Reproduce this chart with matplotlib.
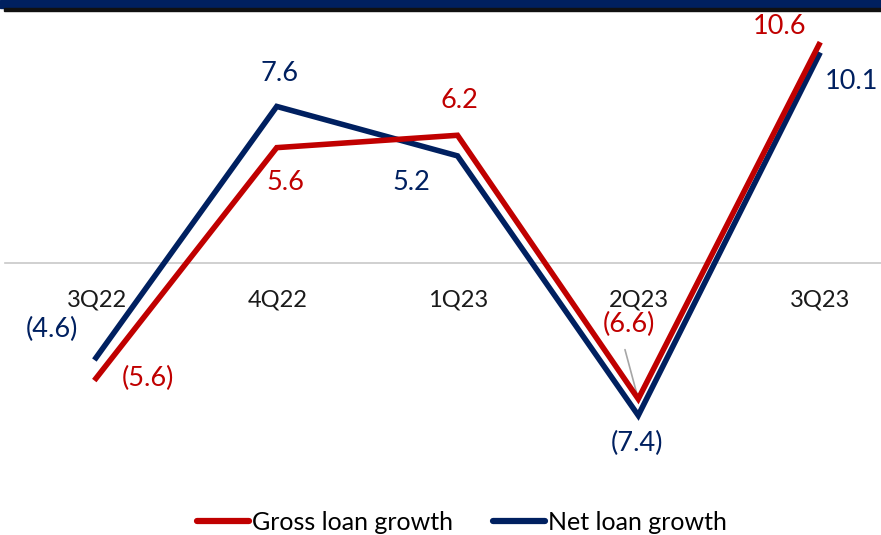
import numpy as np
import matplotlib
matplotlib.use("Agg")
import matplotlib.pyplot as plt
from matplotlib.patches import Rectangle

quarters = ["3Q22", "4Q22", "1Q23", "2Q23", "3Q23"]
gross_growth = [-5.6, 5.6, 6.2, -6.6, 10.6]
net_growth = [-4.6, 7.6, 5.2, -7.4, 10.1]

RED = "#C00000"
NAVY = "#002060"

plt.rcParams['font.family'] = ['Lato', 'DejaVu Sans']

W, H = 881, 535
fig = plt.figure(figsize=(W / 100, H / 100), dpi=100)
ax = fig.add_axes([0, 0, 1, 1])

# pixel layout: first category at x=96, step 180.75; zero line at y=263, 20.6 px per unit
x0, step = 96, 180.75
y0, ppu = 263, 20.6
ax.set_xlim(-x0 / step, (W - x0) / step)
ax.set_ylim(-(H - y0) / ppu, y0 / ppu)
ax.axis("off")

x = np.arange(len(quarters))
ax.axhline(0, color="#c8c8c8", lw=1.2, xmin=5 / W, xmax=1)

ax.plot(x, net_growth, color=NAVY, lw=4, solid_joinstyle="miter", zorder=3)
ax.plot(x, gross_growth, color=RED, lw=4, solid_joinstyle="miter", zorder=4)

for i, q in enumerate(quarters):
    ax.annotate(q, (x[i], 0), xytext=(1, -37), textcoords="offset pixels",
                ha="center", va="center", fontsize=17, color="#1a1a1a")


def fmt(v):
    return f"({abs(v):.1f})" if v < 0 else f"{v:.1f}"


# label offsets (pixels) from each point
gross_off = [(52, 0), (9, -35), (2, 35), (-9, 74), (-39, 18)]
net_off = [(-44, 28), (3, 33), (-46, -27), (-1, -28), (32, -27)]

for i in range(len(quarters)):
    ax.annotate(fmt(gross_growth[i]), (x[i], gross_growth[i]), xytext=gross_off[i],
                textcoords="offset pixels", ha="center", va="center",
                fontsize=19.5, color=RED, zorder=5)
    ax.annotate(fmt(net_growth[i]), (x[i], net_growth[i]), xytext=net_off[i],
                textcoords="offset pixels", ha="center", va="center",
                fontsize=19.5, color=NAVY, zorder=5)

# leader line for the 2Q23 gross label
ax.annotate("", (x[3], gross_growth[3]), xytext=(-14, 52), textcoords="offset pixels",
            arrowprops=dict(arrowstyle="-", color="#a6a6a6", lw=1.2), zorder=2)

leg = fig.legend(handles=ax.lines[::-1], labels=["Gross loan growth", "Net loan growth"],
                 loc="center", bbox_to_anchor=(0.524, 1 - 522 / H), ncol=2, frameon=False,
                 fontsize=18, handlelength=2.1, handletextpad=0.1, columnspacing=1.6)
for ln in leg.get_lines():
    ln.set_linewidth(4.5)
    ln.set_solid_capstyle("round")

# header band
fig.patches.append(Rectangle((0, 1 - 8 / H), 1, 8 / H, transform=fig.transFigure,
                             color="#00205F", zorder=10))
fig.patches.append(Rectangle((4 / W, 1 - 10.5 / H), 1, 2.5 / H, transform=fig.transFigure,
                             color="#111111", zorder=10))

fig.savefig("out.png", dpi=100)
